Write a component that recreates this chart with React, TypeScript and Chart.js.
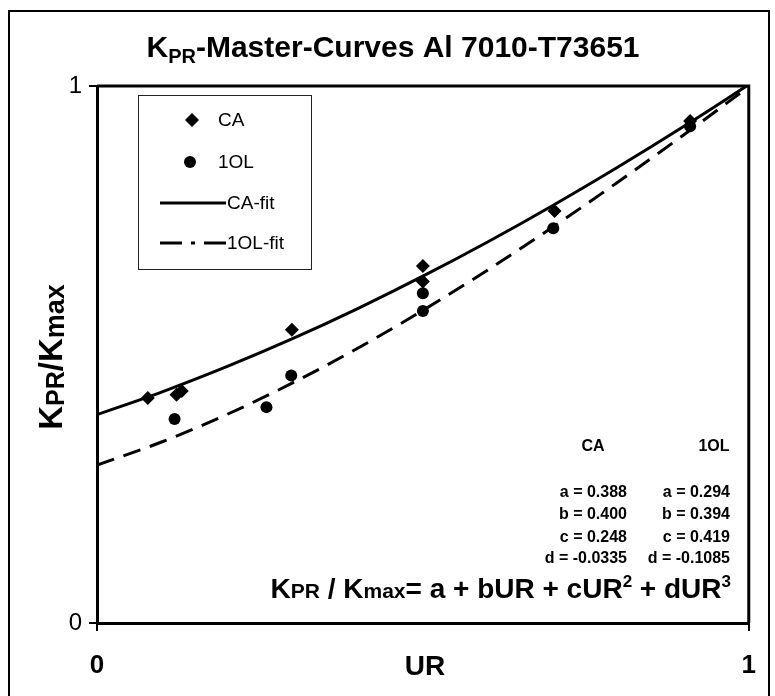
import React, { useEffect, useRef } from "react";
import { Chart, registerables } from "chart.js";
Chart.register(...registerables);

// Measured data points (UR, KPR/Kmax)
const caUR = [0.078, 0.122, 0.130, 0.299, 0.500, 0.500, 0.702, 0.910];
const caK = [0.419, 0.425, 0.432, 0.546, 0.665, 0.636, 0.767, 0.935];
const olUR = [0.119, 0.260, 0.298, 0.500, 0.500, 0.700, 0.910];
const olK = [0.380, 0.402, 0.461, 0.614, 0.581, 0.735, 0.925];

// Fit curves (values of the printed cubic fits at these UR)
const fitUR = [0, 0.1, 0.2, 0.3, 0.4, 0.5, 0.6, 0.7, 0.8, 0.9, 1.0];
const caFit = [0.388, 0.4304, 0.4777, 0.5294, 0.5855, 0.6458, 0.71, 0.778, 0.8496, 0.9245, 1.0025];
const olFit = [0.294, 0.3375, 0.3887, 0.447, 0.5117, 0.5822, 0.6578, 0.7379, 0.8218, 0.9089, 0.9985];

const caCoef = ["a = 0.388", "b = 0.400", "c = 0.248", "d = -0.0335"];
const olCoef = ["a = 0.294", "b = 0.394", "c = 0.419", "d = -0.1085"];
const xTickLabels = ["0", "1"];
const yTickLabels = ["0", "1"];

const FONT = '"Liberation Sans", Arial, sans-serif';

type Part = [string, number, number];
function drawRich(ctx: CanvasRenderingContext2D, parts: Part[], x: number, y: number, align: string, weight = "bold") {
  let total = 0;
  const widths = parts.map((p) => {
    ctx.font = `${weight} ${p[1]}px ${FONT}`;
    const w = ctx.measureText(p[0]).width;
    total += w;
    return w;
  });
  let cx = align === "center" ? x - total / 2 : align === "right" ? x - total : x;
  ctx.textAlign = "left";
  ctx.textBaseline = "alphabetic";
  parts.forEach((p, i) => {
    ctx.font = `${weight} ${p[1]}px ${FONT}`;
    ctx.fillText(p[0], cx, y + p[2]);
    cx += widths[i];
  });
}

const decorPlugin = {
  id: "decor",
  afterDraw(chart: any) {
    const ctx: CanvasRenderingContext2D = chart.ctx;
    const a = chart.chartArea;
    ctx.save();
    ctx.fillStyle = "#000";
    ctx.strokeStyle = "#000";
    // plot box
    ctx.lineWidth = 3;
    ctx.beginPath();
    ctx.moveTo(a.left, a.top);
    ctx.lineTo(a.right, a.top);
    ctx.lineTo(a.right, a.bottom);
    ctx.stroke();

    // title
    drawRich(ctx, [["K", 30, 0], ["PR", 20, 6], ["-Master-Curves Al 7010-T73651", 30, 0]], 393, 57, "center");
    // x title
    drawRich(ctx, [["UR", 28, 0]], 425, 675, "center");
    // y title
    ctx.save();
    ctx.translate(51, 357);
    ctx.rotate(-Math.PI / 2);
    drawRich(ctx, [["K", 33, 0], ["PR", 25, 2], ["/K", 33, 0], ["max", 27, 2]], 0, 11, "center");
    ctx.restore();

    // legend
    ctx.fillStyle = "#fff";
    ctx.fillRect(138, 95, 173, 174);
    ctx.lineWidth = 1;
    ctx.strokeStyle = "#222";
    ctx.strokeRect(138.5, 95.5, 173, 174);
    ctx.fillStyle = "#000";
    ctx.strokeStyle = "#000";
    // diamond
    ctx.beginPath();
    ctx.moveTo(192, 113);
    ctx.lineTo(199, 120);
    ctx.lineTo(192, 127);
    ctx.lineTo(185, 120);
    ctx.closePath();
    ctx.fill();
    ctx.beginPath();
    ctx.arc(190, 162, 6, 0, Math.PI * 2);
    ctx.fill();
    ctx.lineWidth = 3;
    ctx.beginPath();
    ctx.moveTo(160, 203);
    ctx.lineTo(226, 203);
    ctx.stroke();
    ctx.setLineDash([22, 9, 4, 9]);
    ctx.beginPath();
    ctx.moveTo(160, 243);
    ctx.lineTo(226, 243);
    ctx.stroke();
    ctx.setLineDash([]);
    ctx.font = `19px ${FONT}`;
    ctx.textAlign = "left";
    ctx.textBaseline = "middle";
    ctx.fillText("CA", 218, 121);
    ctx.fillText("1OL", 218, 163);
    ctx.fillText("CA-fit", 227, 204);
    ctx.fillText("1OL-fit", 227, 244);

    // coefficient block
    ctx.font = `bold 16px ${FONT}`;
    ctx.textBaseline = "alphabetic";
    ctx.textAlign = "center";
    ctx.fillText("CA", 593, 451);
    ctx.fillText("1OL", 714, 451);
    ctx.textAlign = "right";
    const ys = [497, 519, 542, 563];
    caCoef.forEach((t, i) => ctx.fillText(t, 627, ys[i]));
    olCoef.forEach((t, i) => ctx.fillText(t, 730, ys[i]));

    // equation
    drawRich(
      ctx,
      [
        ["K", 28, 0],
        ["PR", 21, 0],
        [" / K", 28, 0],
        ["max", 21, 0],
        ["= a + bUR + cUR", 28, 0],
        ["2", 17, -11],
        [" + dUR", 28, 0],
        ["3", 17, -11],
      ],
      731,
      598,
      "right"
    );
    ctx.restore();
  },
};

export default function App() {
  const ref = useRef<HTMLCanvasElement>(null);
  useEffect(() => {
    if (!ref.current) return;
    const chart = new Chart(ref.current, {
      type: "scatter",
      data: {
        datasets: [
          {
            label: "CA-fit",
            data: fitUR.map((x, i) => ({ x, y: caFit[i] })),
            showLine: true,
            borderColor: "#000",
            borderWidth: 3,
            pointRadius: 0,
            cubicInterpolationMode: "monotone",
          },
          {
            label: "1OL-fit",
            data: fitUR.map((x, i) => ({ x, y: olFit[i] })),
            showLine: true,
            borderColor: "#000",
            borderWidth: 3,
            borderDash: [18, 10],
            pointRadius: 0,
            cubicInterpolationMode: "monotone",
          },
          {
            label: "CA",
            data: caUR.map((x, i) => ({ x, y: caK[i] })),
            pointStyle: "rectRot",
            pointRadius: 7,
            backgroundColor: "#000",
            borderColor: "#000",
            borderWidth: 0,
          },
          {
            label: "1OL",
            data: olUR.map((x, i) => ({ x, y: olK[i] })),
            pointStyle: "circle",
            pointRadius: 6,
            backgroundColor: "#000",
            borderColor: "#000",
            borderWidth: 0,
          },
        ],
      },
      options: {
        animation: false,
        responsive: false,
        devicePixelRatio: 1,
        layout: { padding: { left: 0, right: 22, top: 86, bottom: 0 } },
        plugins: { legend: { display: false }, title: { display: false }, tooltip: { enabled: false } },
        scales: {
          x: {
            type: "linear",
            min: 0,
            max: 1,
            afterFit: (s: any) => {
              s.height = 73;
            },
            ticks: {
              stepSize: 1,
              padding: 19,
              color: "#000",
              font: { family: FONT, size: 26, weight: "bold" },
              callback: (v: any) => xTickLabels[Math.round(Number(v))],
            },
            grid: { drawOnChartArea: false, drawTicks: true, tickLength: 8, lineWidth: 2, color: "#000" },
            border: { display: true, width: 3, color: "#000" },
          },
          y: {
            type: "linear",
            min: 0,
            max: 1,
            afterFit: (s: any) => {
              s.width = 97;
            },
            ticks: {
              stepSize: 1,
              padding: 7,
              color: "#000",
              font: { family: FONT, size: 24 },
              callback: (v: any) => yTickLabels[Math.round(Number(v))],
            },
            grid: { drawOnChartArea: false, drawTicks: true, tickLength: 8, lineWidth: 2, color: "#000" },
            border: { display: true, width: 3, color: "#000" },
          },
        },
      },
      plugins: [decorPlugin],
    });
    return () => chart.destroy();
  }, []);
  return (
    <>
      <div
        style={{
          position: "fixed",
          left: 8,
          top: 10,
          width: 762,
          height: 700,
          border: "2px solid #000",
          borderBottom: "none",
          boxSizing: "border-box",
          background: "#fff",
        }}
      />
      <canvas
        ref={ref}
        width={775}
        height={696}
        style={{ position: "fixed", left: 0, top: 0, width: 775, height: 696 }}
      />
    </>
  );
}
